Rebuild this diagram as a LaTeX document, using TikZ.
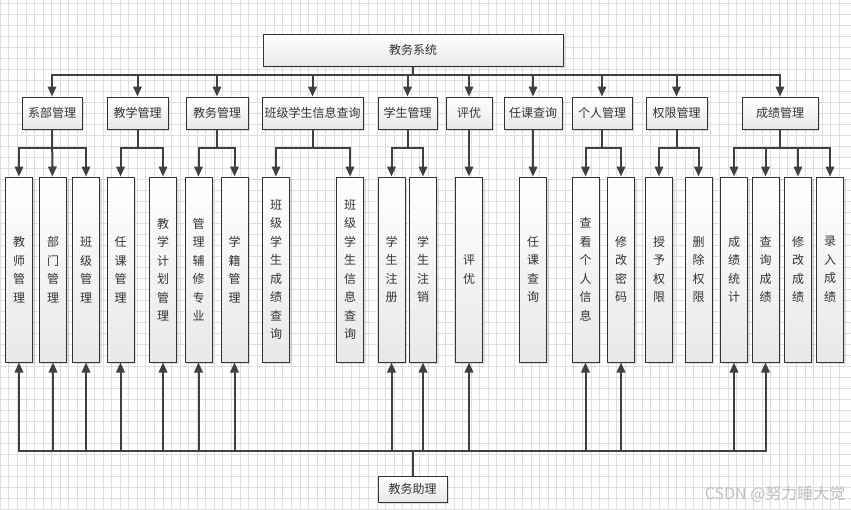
\documentclass[tikz,border=0pt]{standalone}
\usepackage{fontspec}
\newfontfamily\cjk{Noto Sans CJK SC}
\usetikzlibrary{arrows.meta,shadows,calc}

\begin{document}
\begin{tikzpicture}[
  x=1pt, y=-1pt, font=\cjk\fontsize{12}{14}\selectfont, text=black!80,
  box/.style={draw=black!80, line width=1pt, top color=white, bottom color=black!9, inner sep=0pt, align=center,
    drop shadow={shadow xshift=2pt, shadow yshift=-2pt, opacity=0.25}},
  grp/.style={box, minimum height=32pt},
  leaf/.style={box, minimum width=27pt, minimum height=185pt, font=\cjk\fontsize{12}{18.5}\selectfont},
  wire/.style={draw=black!75, line width=2pt},
  arr/.style={wire, -{Triangle[length=10pt,width=8.5pt]}},
  gridline/.style={black!13, line width=0.6pt}]
  \useasboundingbox (0,0) rectangle (851,509);
  \fill[white] (0,0) rectangle (851,509);
  % background grid
  \foreach \i in {0,...,98} \draw[gridline] ({0.2+8.56*\i},0) -- ({0.2+8.56*\i},509);
  \foreach \j in {0,...,46} \draw[gridline] (0,{3+11*\j}) -- (851,{3+11*\j});
  % top and second level
  \node[grp, minimum width=300pt] (sys) at (413,50) {教务系统};
  \node[grp, minimum width=60pt] (dept) at (52,113) {系部管理};
  \node[grp, minimum width=61pt] (teach) at (137.5,113) {教学管理};
  \node[grp, minimum width=62pt] (affairs) at (217,113) {教务管理};
  \node[grp, minimum width=101pt] (clsq) at (312.5,113) {班级学生信息查询};
  \node[grp, minimum width=59pt] (stu) at (407.5,113) {学生管理};
  \node[grp, minimum width=46pt] (eval) at (469,113) {评优};
  \node[grp, minimum width=58pt] (tq) at (533,113) {任课查询};
  \node[grp, minimum width=60pt] (pers) at (602,113) {个人管理};
  \node[grp, minimum width=61pt] (perm) at (676.5,113) {权限管理};
  \node[grp, minimum width=76pt] (score) at (780,113) {成绩管理};
  % leaves
  \node[leaf] (tmgr) at (19,269.5) {教\\师\\管\\理};
  \node[leaf] (dmgr) at (53,269.5) {部\\门\\管\\理};
  \node[leaf] (cmgr) at (86,269.5) {班\\级\\管\\理};
  \node[leaf] (amgr) at (120.5,269.5) {任\\课\\管\\理};
  \node[leaf] (plan) at (163,269.5) {教\\学\\计\\划\\管\\理};
  \node[leaf] (minor) at (198.5,269.5) {管\\理\\辅\\修\\专\\业};
  \node[leaf] (reg) at (234.5,269.5) {学\\籍\\管\\理};
  \node[leaf] (cgrade) at (276,269.5) {班\\级\\学\\生\\成\\绩\\查\\询};
  \node[leaf] (cinfo) at (350,269.5) {班\\级\\学\\生\\信\\息\\查\\询};
  \node[leaf] (sreg) at (391.5,269.5) {学\\生\\注\\册};
  \node[leaf] (sdel) at (423,269.5) {学\\生\\注\\销};
  \node[leaf] (evl) at (469,269.5) {评\\优};
  \node[leaf] (tqry) at (533,269.5) {任\\课\\查\\询};
  \node[leaf] (pinfo) at (585.5,269.5) {查\\看\\个\\人\\信\\息};
  \node[leaf] (pwd) at (621,269.5) {修\\改\\密\\码};
  \node[leaf] (grant) at (659,269.5) {授\\予\\权\\限};
  \node[leaf] (revoke) at (698.5,269.5) {删\\除\\权\\限};
  \node[leaf] (stat) at (734,269.5) {成\\绩\\统\\计};
  \node[leaf] (qscore) at (765.5,269.5) {查\\询\\成\\绩};
  \node[leaf] (mscore) at (798,269.5) {修\\改\\成\\绩};
  \node[leaf] (escore) at (830,269.5) {录\\入\\成\\绩};
  \node[grp, minimum width=69pt, minimum height=26pt] (helper) at (412.5,489) {教务助理};
  \node[font=\cjk\fontsize{16}{18}\selectfont, text=black!25, anchor=east] (mark) at (849,494) {CSDN @努力睡大觉};
  \coordinate (topbus) at (413,75);
  \coordinate (mid) at (0,148);
  \coordinate (low) at (0,451);
  % system to groups
  \draw[arr] (sys) -- (topbus) -| (dept); \draw[arr] (sys) -- (topbus) -| (teach);
  \draw[arr] (sys) -- (topbus) -| (affairs); \draw[arr] (sys) -- (topbus) -| (clsq);
  \draw[arr] (sys) -- (topbus) -| (stu); \draw[arr] (sys) -- (topbus) -| (eval);
  \draw[arr] (sys) -- (topbus) -| (tq); \draw[arr] (sys) -- (topbus) -| (pers);
  \draw[arr] (sys) -- (topbus) -| (perm); \draw[arr] (sys) -- (topbus) -| (score);
  % groups to leaves
  \draw[arr] (dept) |- (mid -| tmgr) -- (tmgr); \draw[arr] (dept) -- (dmgr); \draw[arr] (dept) |- (mid -| cmgr) -- (cmgr);
  \draw[arr] (teach) |- (mid -| amgr) -- (amgr); \draw[arr] (teach) |- (mid -| plan) -- (plan);
  \draw[arr] (affairs) |- (mid -| minor) -- (minor); \draw[arr] (affairs) |- (mid -| reg) -- (reg);
  \draw[arr] (clsq) |- (mid -| cgrade) -- (cgrade); \draw[arr] (clsq) |- (mid -| cinfo) -- (cinfo);
  \draw[arr] (stu) |- (mid -| sreg) -- (sreg); \draw[arr] (stu) |- (mid -| sdel) -- (sdel);
  \draw[arr] (eval) -- (evl); \draw[arr] (tq) -- (tqry);
  \draw[arr] (pers) |- (mid -| pinfo) -- (pinfo); \draw[arr] (pers) |- (mid -| pwd) -- (pwd);
  \draw[arr] (perm) |- (mid -| grant) -- (grant); \draw[arr] (perm) |- (mid -| revoke) -- (revoke);
  \draw[arr] (score) |- (mid -| stat) -- (stat); \draw[arr] (score) |- (mid -| qscore) -- (qscore);
  \draw[arr] (score) |- (mid -| mscore) -- (mscore); \draw[arr] (score) |- (mid -| escore) -- (escore);
  % helper to leaves
  \draw[arr] (helper) |- (low -| tmgr) -- (tmgr); \draw[arr] (helper) |- (low -| dmgr) -- (dmgr);
  \draw[arr] (helper) |- (low -| cmgr) -- (cmgr); \draw[arr] (helper) |- (low -| amgr) -- (amgr);
  \draw[arr] (helper) |- (low -| plan) -- (plan); \draw[arr] (helper) |- (low -| minor) -- (minor);
  \draw[arr] (helper) |- (low -| reg) -- (reg); \draw[arr] (helper) |- (low -| sreg) -- (sreg);
  \draw[arr] (helper) |- (low -| sdel) -- (sdel); \draw[arr] (helper) |- (low -| evl) -- (evl);
  \draw[arr] (helper) |- (low -| pinfo) -- (pinfo); \draw[arr] (helper) |- (low -| pwd) -- (pwd);
  \draw[arr] (helper) |- (low -| stat) -- (stat); \draw[arr] (helper) |- (low -| qscore) -- (qscore);
\end{tikzpicture}
\end{document}
